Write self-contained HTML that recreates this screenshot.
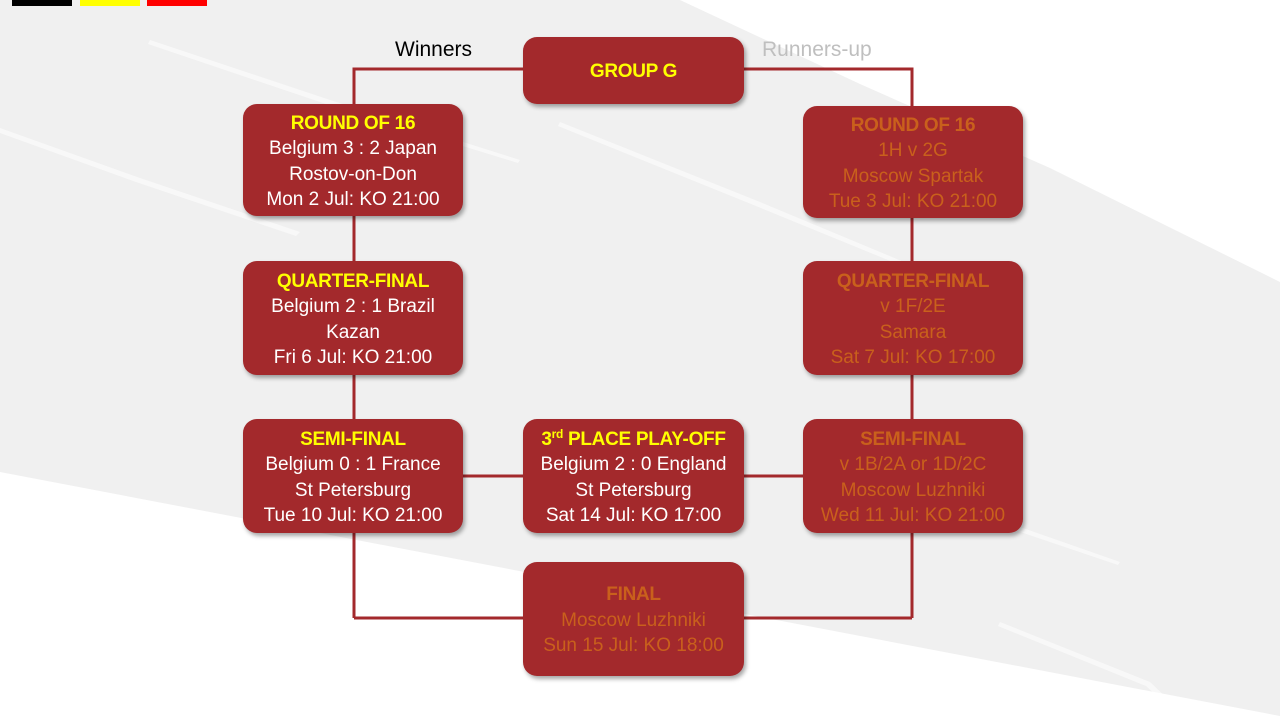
<!DOCTYPE html>
<html>
<head>
<meta charset="utf-8">
<style>
  html,body{margin:0;padding:0;}
  body{width:1280px;height:720px;position:relative;overflow:hidden;background:#ffffff;font-family:"Liberation Sans",Arial,sans-serif;}
  .bg{position:absolute;left:0;top:0;}
  .box{position:absolute;box-sizing:border-box;padding-top:3px;background:#a3292c;border-radius:14px;box-shadow:2px 3px 4px rgba(0,0,0,0.35);display:flex;flex-direction:column;justify-content:center;align-items:center;text-align:center;color:#ffffff;font-size:19px;line-height:25.5px;white-space:nowrap;}
  .box .t{font-weight:bold;color:#ffff00;letter-spacing:-0.3px;}
  .box.o{color:#c9601c;}
  .box.o .t{color:#c9601c;}
  .lbl{position:absolute;font-size:21px;line-height:24px;white-space:nowrap;}
  .flag{position:absolute;top:0;height:6px;width:60px;}
  sup{font-size:12px;line-height:0;vertical-align:7px;}
</style>
</head>
<body>
<svg class="bg" width="1280" height="720" viewBox="0 0 1280 720">
  <polygon points="0,0 680,0 860,84 1050,168 1280,282 1280,716 0,472" fill="#f0f0f0"/>
  <!-- subtle white streaks -->
  <g fill="#ffffff" opacity="0.55">
    <polygon points="0,128 140,178 300,232 296,236 136,182 0,133"/>
    <polygon points="150,40 330,100 520,160 518,163 326,104 148,44"/>
    <polygon points="560,122 760,202 1000,302 998,305 756,206 558,126"/>
    <polygon points="780,20 900,72 1020,128 1018,131 897,76 778,24"/>
    <polygon points="480,572 700,640 900,700 897,703 696,644 478,576"/>
    <polygon points="1000,622 1150,682 1190,720 1184,720 1146,686 998,626"/>
    <polygon points="880,462 1000,520 1120,562 1118,565 997,524 878,466"/>
  </g>
  <!-- connectors -->
  <g stroke="#a3292c" stroke-width="3" fill="none">
    <polyline points="354,104 354,69 912,69 912,106"/>
    <line x1="354" y1="104" x2="354" y2="618"/>
    <line x1="912" y1="106" x2="912" y2="618"/>
    <line x1="354" y1="618" x2="912" y2="618"/>
    <line x1="463" y1="476" x2="803" y2="476"/>
  </g>
</svg>

<div class="flag" style="left:12px;background:#000000;"></div>
<div class="flag" style="left:80px;background:#ffff00;"></div>
<div class="flag" style="left:147px;background:#ff0000;"></div>

<div class="lbl" style="left:395px;top:38px;color:#000000;">Winners</div>
<div class="lbl" style="left:762px;top:38px;color:#bfbfbf;">Runners-up</div>

<div class="box" style="left:523px;top:37px;width:221px;height:67px;"><div class="t">GROUP G</div></div>

<div class="box" style="left:243px;top:104px;width:220px;height:112px;">
  <div class="t">ROUND OF 16</div><div>Belgium 3 : 2 Japan</div><div>Rostov-on-Don</div><div>Mon 2 Jul: KO 21:00</div>
</div>
<div class="box" style="left:243px;top:261px;width:220px;height:114px;">
  <div class="t">QUARTER-FINAL</div><div>Belgium 2 : 1 Brazil</div><div>Kazan</div><div>Fri 6 Jul: KO 21:00</div>
</div>
<div class="box" style="left:243px;top:419px;width:220px;height:114px;">
  <div class="t">SEMI-FINAL</div><div>Belgium 0 : 1 France</div><div>St Petersburg</div><div>Tue 10 Jul: KO 21:00</div>
</div>

<div class="box" style="left:523px;top:419px;width:221px;height:114px;">
  <div class="t">3<sup>rd</sup> PLACE PLAY-OFF</div><div>Belgium 2 : 0 England</div><div>St Petersburg</div><div>Sat 14 Jul: KO 17:00</div>
</div>
<div class="box o" style="left:523px;top:562px;width:221px;height:114px;">
  <div class="t">FINAL</div><div>Moscow Luzhniki</div><div>Sun 15 Jul: KO 18:00</div>
</div>

<div class="box o" style="left:803px;top:106px;width:220px;height:112px;">
  <div class="t">ROUND OF 16</div><div>1H v 2G</div><div>Moscow Spartak</div><div>Tue 3 Jul: KO 21:00</div>
</div>
<div class="box o" style="left:803px;top:261px;width:220px;height:114px;">
  <div class="t">QUARTER-FINAL</div><div>v 1F/2E</div><div>Samara</div><div>Sat 7 Jul: KO 17:00</div>
</div>
<div class="box o" style="left:803px;top:419px;width:220px;height:114px;">
  <div class="t">SEMI-FINAL</div><div>v 1B/2A or 1D/2C</div><div>Moscow Luzhniki</div><div>Wed 11 Jul: KO 21:00</div>
</div>
</body>
</html>
